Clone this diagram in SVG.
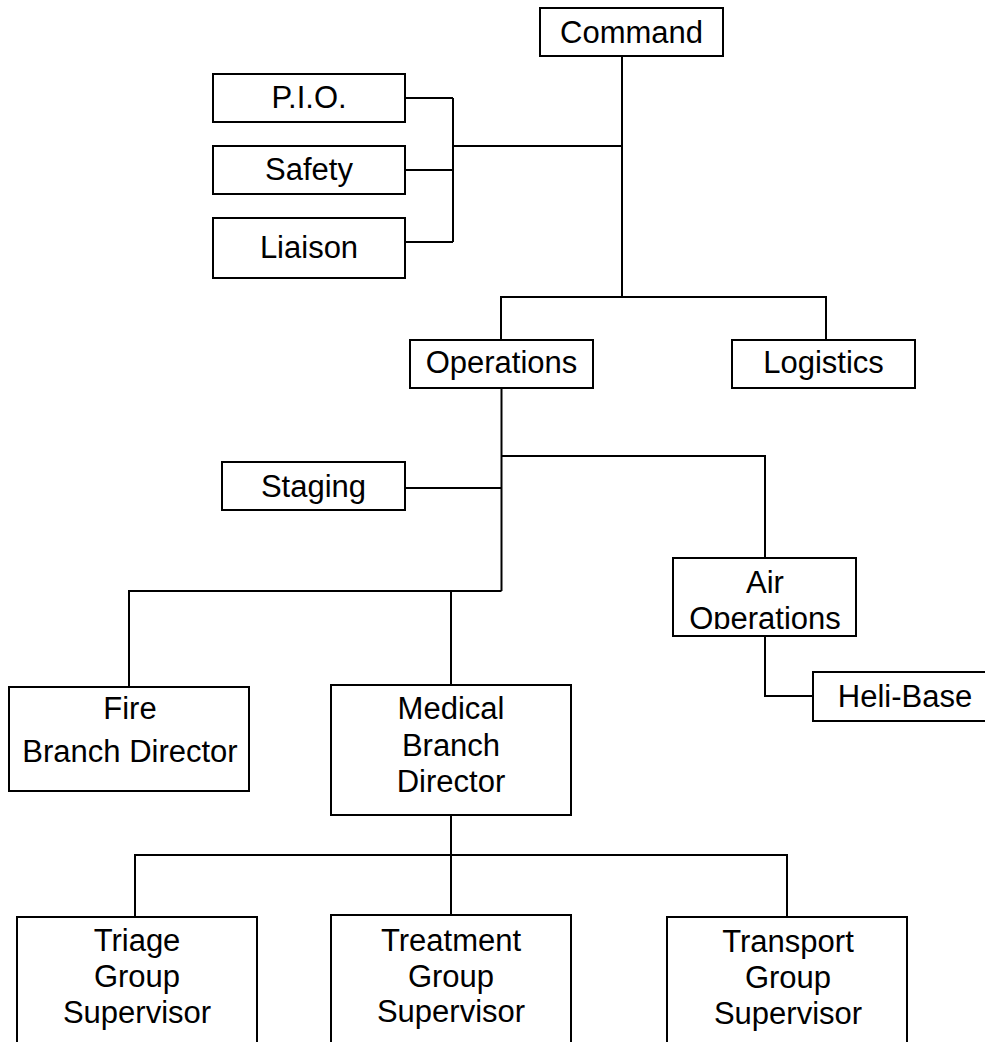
<svg xmlns="http://www.w3.org/2000/svg" width="985" height="1042" viewBox="0 0 985 1042">
<style>
  .box { fill: #fff; stroke: #000; stroke-width: 2; }
  .lbl { font-family: "Liberation Sans", Arial, sans-serif; font-size: 31px; fill: #000; text-anchor: middle; }
  .conn { fill: none; stroke: #000; stroke-width: 2; }
</style>
<defs>
  <clipPath id="airClip"><rect x="673" y="558" width="183" height="71"/></clipPath>
</defs>
<rect width="985" height="1042" fill="#fff"/>
<g id="connectors" class="conn">
  <path d="M622 56 V297"/>
  <path d="M405 98 H453 M405 170 H453 M405 242 H453 M453 98 V242 M453 146 H622"/>
  <path d="M501 340 V297 H826 V340"/>
  <path d="M501.5 388 V591"/>
  <path d="M501.5 456 H765 V558"/>
  <path d="M405 488 H501.5"/>
  <path d="M501.5 591 H129 V687"/>
  <path d="M451 591 V685"/>
  <path d="M765 636 V696 H813"/>
  <path d="M451 815 V855"/>
  <path d="M135 917 V855 H787 V917"/>
  <path d="M451 855 V915"/>
</g>
<g id="command"><rect class="box" x="540" y="8" width="183" height="48"/><text class="lbl" x="631.5" y="43">Command</text></g>
<g id="pio"><rect class="box" x="213" y="74" width="192" height="48"/><text class="lbl" x="309" y="108">P.I.O.</text></g>
<g id="safety"><rect class="box" x="213" y="146" width="192" height="48"/><text class="lbl" x="309" y="180">Safety</text></g>
<g id="liaison"><rect class="box" x="213" y="218" width="192" height="60"/><text class="lbl" x="309" y="258">Liaison</text></g>
<g id="operations"><rect class="box" x="410" y="340" width="183" height="48"/><text class="lbl" x="501.5" y="373">Operations</text></g>
<g id="logistics"><rect class="box" x="732" y="340" width="183" height="48"/><text class="lbl" x="823.5" y="373">Logistics</text></g>
<g id="staging"><rect class="box" x="222" y="462" width="183" height="48"/><text class="lbl" x="313.5" y="497">Staging</text></g>
<g id="air-operations"><rect class="box" x="673" y="558" width="183" height="78"/><g clip-path="url(#airClip)"><text class="lbl" x="765" y="593">Air</text><text class="lbl" x="765" y="629">Operations</text></g></g>
<g id="heli-base"><rect class="box" x="813" y="672" width="185" height="49"/><text class="lbl" x="905" y="707">Heli-Base</text></g>
<g id="fire-branch"><rect class="box" x="9" y="687" width="240" height="104"/><text class="lbl" x="130" y="719">Fire</text><text class="lbl" x="130" y="762">Branch Director</text></g>
<g id="medical-branch"><rect class="box" x="331" y="685" width="240" height="130"/><text class="lbl" x="451" y="719">Medical</text><text class="lbl" x="451" y="756">Branch</text><text class="lbl" x="451" y="792">Director</text></g>
<g id="triage"><rect class="box" x="17" y="917" width="240" height="140"/><text class="lbl" x="137" y="951">Triage</text><text class="lbl" x="137" y="987">Group</text><text class="lbl" x="137" y="1023">Supervisor</text></g>
<g id="treatment"><rect class="box" x="331" y="915" width="240" height="142"/><text class="lbl" x="451" y="951">Treatment</text><text class="lbl" x="451" y="987">Group</text><text class="lbl" x="451" y="1022">Supervisor</text></g>
<g id="transport"><rect class="box" x="667" y="917" width="240" height="140"/><text class="lbl" x="788" y="952">Transport</text><text class="lbl" x="788" y="988">Group</text><text class="lbl" x="788" y="1024">Supervisor</text></g>
</svg>
